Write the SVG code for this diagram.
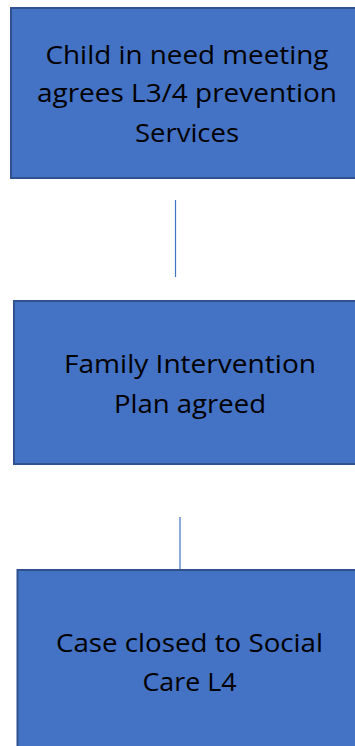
<svg xmlns="http://www.w3.org/2000/svg" width="355" height="746" viewBox="0 0 355 746">
<style>
.box{fill:#4472C4;stroke:#2F528F;stroke-width:2}
.t{font-family:"Open Sans","Noto Sans",sans-serif;font-size:25px;fill:#000;text-anchor:middle}
.c{stroke:#4472C4;stroke-width:1.2;fill:none}
</style>
<rect width="355" height="746" fill="#fff"/>
<g id="connectors">
<line class="c" x1="175.5" y1="200" x2="175.5" y2="277"/>
<line class="c" x1="180" y1="517" x2="180" y2="569"/>
</g>
<g id="node1">
<rect class="box" x="11" y="8" width="360" height="170"/>
<text class="t" x="187" y="64" textLength="283" lengthAdjust="spacingAndGlyphs">Child in need meeting</text>
<text class="t" x="187" y="102" textLength="300" lengthAdjust="spacingAndGlyphs">agrees L3/4 prevention</text>
<text class="t" x="187" y="142" textLength="104" lengthAdjust="spacingAndGlyphs">Services</text>
</g>
<g id="node2">
<rect class="box" x="14" y="301" width="360" height="163"/>
<text class="t" x="190" y="373" textLength="252" lengthAdjust="spacingAndGlyphs">Family Intervention</text>
<text class="t" x="190" y="413" textLength="152" lengthAdjust="spacingAndGlyphs">Plan agreed</text>
</g>
<g id="node3">
<rect class="box" x="17.5" y="570" width="360" height="200"/>
<text class="t" x="189.5" y="652" textLength="267" lengthAdjust="spacingAndGlyphs">Case closed to Social</text>
<text class="t" x="189.5" y="691" textLength="94" lengthAdjust="spacingAndGlyphs">Care L4</text>
</g>
</svg>
